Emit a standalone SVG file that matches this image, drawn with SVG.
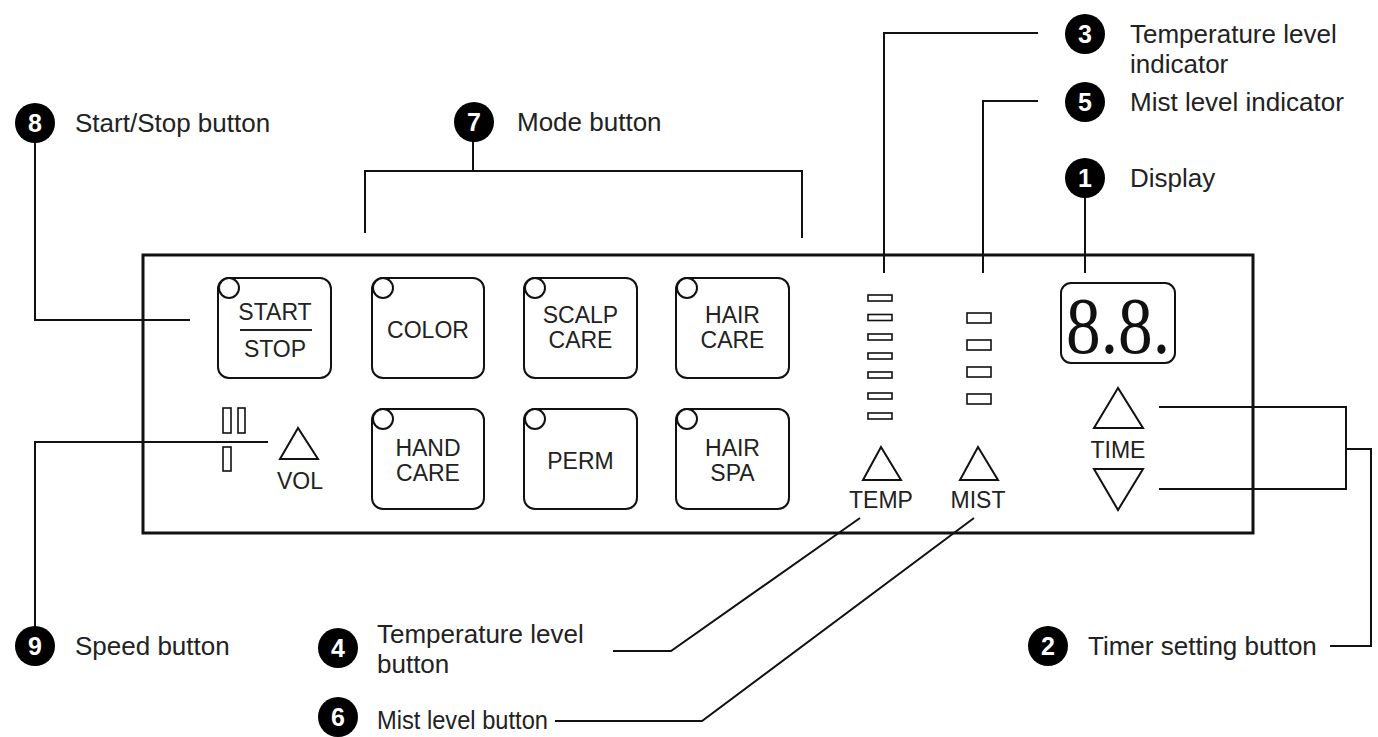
<svg xmlns="http://www.w3.org/2000/svg" width="1378" height="737" viewBox="0 0 1378 737">
<style>
.bg{fill:#fff}
.panel{fill:none;stroke:#111;stroke-width:3}
.btn{fill:#fff;stroke:#111;stroke-width:2}
.led{fill:#fff;stroke:#111;stroke-width:1.6}
.tri{fill:none;stroke:#111;stroke-width:2}
.bt{font-family:"Liberation Sans",Arial,sans-serif;font-size:23px;fill:#222;text-anchor:middle}
.lbl{font-family:"Liberation Sans",Arial,sans-serif;font-size:26px;fill:#222}
.num{font-family:"Liberation Sans",Arial,sans-serif;font-size:25px;font-weight:bold;fill:#fff;text-anchor:middle}
.badge{fill:#000}
.conn{fill:none;stroke:#111;stroke-width:2}
</style>
<rect class="bg" x="0" y="0" width="1378" height="737"/>

<g id="panel">
  <rect class="panel" x="143" y="255" width="1110" height="278"/>
</g>

<g id="btn-startstop">
  <rect class="btn" x="218" y="278" width="113" height="100" rx="11"/>
  <circle class="btn" cx="229" cy="288" r="10"/>
  <text class="bt" x="275" y="320">START</text>
  <line x1="240" y1="330" x2="312" y2="330" stroke="#222" stroke-width="1.8"/>
  <text class="bt" x="275" y="357">STOP</text>
</g>
<g id="btn-color">
  <rect class="btn" x="372" y="278" width="112" height="100" rx="11"/>
  <circle class="btn" cx="383" cy="288" r="10"/>
  <text class="bt" x="428" y="338">COLOR</text>
</g>
<g id="btn-scalp">
  <rect class="btn" x="524" y="278" width="113" height="100" rx="11"/>
  <circle class="btn" cx="535" cy="288" r="10"/>
  <text class="bt" x="580.5" y="323">SCALP</text>
  <text class="bt" x="580.5" y="348">CARE</text>
</g>
<g id="btn-haircare">
  <rect class="btn" x="676" y="278" width="113" height="100" rx="11"/>
  <circle class="btn" cx="687" cy="288" r="10"/>
  <text class="bt" x="732.5" y="323">HAIR</text>
  <text class="bt" x="732.5" y="348">CARE</text>
</g>
<g id="btn-handcare">
  <rect class="btn" x="372" y="409" width="112" height="100" rx="11"/>
  <circle class="btn" cx="383" cy="419" r="10"/>
  <text class="bt" x="428" y="456">HAND</text>
  <text class="bt" x="428" y="481">CARE</text>
</g>
<g id="btn-perm">
  <rect class="btn" x="524" y="409" width="113" height="100" rx="11"/>
  <circle class="btn" cx="535" cy="419" r="10"/>
  <text class="bt" x="580.5" y="469">PERM</text>
</g>
<g id="btn-hairspa">
  <rect class="btn" x="676" y="409" width="113" height="100" rx="11"/>
  <circle class="btn" cx="687" cy="419" r="10"/>
  <text class="bt" x="732.5" y="456">HAIR</text>
  <text class="bt" x="732.5" y="481">SPA</text>
</g>

<g id="vol">
  <rect class="led" x="223" y="408" width="8" height="25"/>
  <rect class="led" x="238" y="408" width="7" height="25"/>
  <rect class="led" x="223" y="447" width="8" height="24"/>
  <polygon class="tri" points="298,428 280,459 318,459"/>
  <text class="bt" x="300" y="489">VOL</text>
</g>

<g id="temp">
  <rect class="led" x="868" y="295" width="24" height="6"/>
  <rect class="led" x="868" y="314.5" width="24" height="6"/>
  <rect class="led" x="868" y="334" width="24" height="6"/>
  <rect class="led" x="868" y="353" width="24" height="6"/>
  <rect class="led" x="868" y="372" width="24" height="6"/>
  <rect class="led" x="868" y="393" width="24" height="6"/>
  <rect class="led" x="868" y="413" width="24" height="6"/>
  <polygon class="tri" points="881,447 863,480 901,480"/>
  <text class="bt" x="881" y="508">TEMP</text>
</g>

<g id="mist">
  <rect class="led" x="967" y="313" width="24" height="10"/>
  <rect class="led" x="967" y="340" width="24" height="10"/>
  <rect class="led" x="967" y="367" width="24" height="10"/>
  <rect class="led" x="967" y="394" width="24" height="10"/>
  <polygon class="tri" points="978,447 960,480 998,480"/>
  <text class="bt" x="978" y="508">MIST</text>
</g>

<g id="display">
  <rect class="btn" x="1061" y="283" width="114" height="80" rx="10"/>
  <text x="1066" y="353" font-family="Liberation Serif,'Times New Roman',serif" font-size="80" fill="#111" textLength="104" lengthAdjust="spacingAndGlyphs">8.8.</text>
</g>

<g id="time">
  <polygon class="tri" points="1118,388 1094,428 1143,428"/>
  <text class="bt" x="1118" y="458">TIME</text>
  <polygon class="tri" points="1094,469 1143,469 1118,510"/>
</g>

<g id="connectors">
  <polyline class="conn" points="35,141 35,320 190,320"/>
  <polyline class="conn" points="473,140 473,171"/>
  <polyline class="conn" points="365,233 365,171 802,171 802,238"/>
  <polyline class="conn" points="1038,33 884,33 884,273"/>
  <polyline class="conn" points="1038,101 983,101 983,273"/>
  <polyline class="conn" points="1085,196 1085,273"/>
  <polyline class="conn" points="35,627 35,442 268,442"/>
  <polyline class="conn" points="613,651 671,651 860,518"/>
  <polyline class="conn" points="555,721 702,721 974,518"/>
  <polyline class="conn" points="1159,407 1346,407 1346,489 1159,489"/>
  <polyline class="conn" points="1346,449 1371,449 1371,646 1330,646"/>
</g>

<g id="label-8">
  <circle class="badge" cx="35" cy="123" r="20"/>
  <text class="num" x="35" y="132">8</text>
  <text class="lbl" x="75" y="132">Start/Stop button</text>
</g>
<g id="label-7">
  <circle class="badge" cx="474" cy="122" r="20"/>
  <text class="num" x="474" y="131">7</text>
  <text class="lbl" x="517" y="131">Mode button</text>
</g>
<g id="label-3">
  <circle class="badge" cx="1085" cy="34" r="20"/>
  <text class="num" x="1085" y="43">3</text>
  <text class="lbl" x="1130" y="43">Temperature level</text>
  <text class="lbl" x="1130" y="73">indicator</text>
</g>
<g id="label-5">
  <circle class="badge" cx="1085" cy="102" r="20"/>
  <text class="num" x="1085" y="111">5</text>
  <text class="lbl" x="1130" y="111">Mist level indicator</text>
</g>
<g id="label-1">
  <circle class="badge" cx="1085" cy="178" r="20"/>
  <text class="num" x="1085" y="187">1</text>
  <text class="lbl" x="1130" y="187">Display</text>
</g>
<g id="label-9">
  <circle class="badge" cx="35" cy="646" r="20"/>
  <text class="num" x="35" y="655">9</text>
  <text class="lbl" x="75" y="655">Speed button</text>
</g>
<g id="label-4">
  <circle class="badge" cx="338" cy="648" r="20"/>
  <text class="num" x="338" y="657">4</text>
  <text class="lbl" x="377" y="643">Temperature level</text>
  <text class="lbl" x="377" y="673">button</text>
</g>
<g id="label-6">
  <circle class="badge" cx="338" cy="717" r="20"/>
  <text class="num" x="338" y="726">6</text>
  <text class="lbl" x="377" y="729" textLength="171" lengthAdjust="spacingAndGlyphs">Mist level button</text>
</g>
<g id="label-2">
  <circle class="badge" cx="1048" cy="646" r="20"/>
  <text class="num" x="1048" y="655">2</text>
  <text class="lbl" x="1088" y="655">Timer setting button</text>
</g>
</svg>
